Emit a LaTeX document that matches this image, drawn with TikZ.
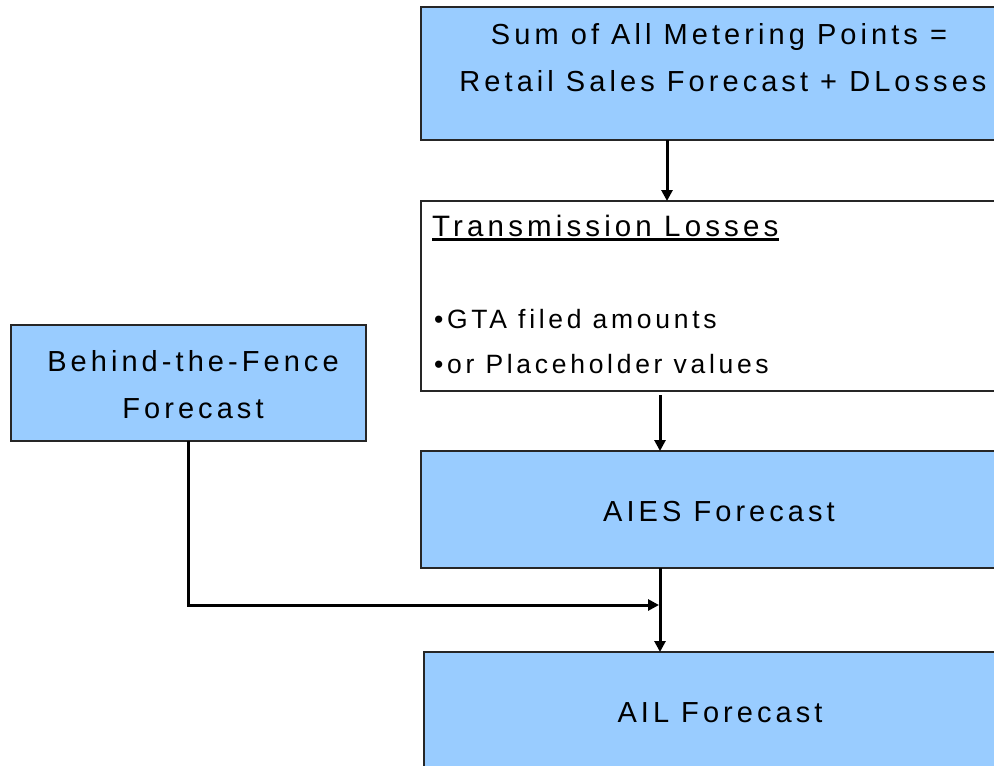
\documentclass[tikz,border=0pt]{standalone}
\usepackage{fontspec}
\setmainfont{Liberation Sans}[LetterSpace=14]
\usetikzlibrary{arrows.meta}
\definecolor{boxblue}{HTML}{99CCFF}
\begin{document}
\begin{tikzpicture}[x=1pt,y=-1pt,
  box/.style={draw=black!85, line width=1.8pt, fill=boxblue, inner sep=0pt, outer sep=0pt, anchor=north west},
  lbl/.style={font=\fontsize{29}{34}\selectfont, inner sep=0pt, text=black, anchor=base},
  bullet/.style={lbl, font=\fontsize{26.5}{32}\selectfont, anchor=base west},
  conn/.style={line width=3pt, -{Triangle[length=11pt,width=11pt]}},
]
\useasboundingbox (0,0) rectangle (994,766);
\clip (0,0) rectangle (994,766);

% boxes (the right-hand column runs past the page edge)
\node[box, minimum width=598pt, minimum height=133pt] (sum) at (421,7) {};
\node[box, fill=white, minimum width=598pt, minimum height=190pt] (tl) at (421,201) {};
\node[box, minimum width=598pt, minimum height=117pt] (aies) at (421,451) {};
\node[box, minimum width=598pt, minimum height=140pt] (ail) at (424,652) {};
\node[box, minimum width=355pt, minimum height=116pt] (btf) at (11,325) {};

% texts
\node[lbl] (sum1) at (719,44) {Sum of All Metering Points =};
\node[lbl] (sum2) at (723,91) {Retail Sales Forecast + DLosses};
\node[lbl, font=\fontsize{29.5}{34}\selectfont, anchor=base west] (tlt) at (432,236) {Transmission Losses};
\draw[line width=3pt] ([yshift=-3.5pt]tlt.base west) -- ([yshift=-3.5pt]tlt.base east);
\node[bullet] (gta) at (434,328) {\textbullet GTA filed amounts};
\node[bullet] (ph) at (434,373) {\textbullet or Placeholder values};
\node[lbl] (aiest) at (719,521) {AIES Forecast};
\node[lbl] (ailt) at (720,722) {AIL Forecast};
\node[lbl] (btf1) at (193,371) {Behind-the-Fence};
\node[lbl] (btf2) at (193,418) {Forecast};

% connectors
\coordinate (xa) at (667,0);
\coordinate (xb) at (660,0);
\coordinate (tlb) at ([yshift=-4pt]tl.south);
\coordinate (join) at (659,605);
\draw[conn] (sum.south -| xa) -- (tl.north -| xa);
\draw[conn] (tlb -| xb) -- (aies.north -| xb);
\draw[conn] (aies.south -| xb) -- (ail.north -| xb);
\draw[conn] (btf.south) -- (btf.south |- join) -- (join);
\end{tikzpicture}
\end{document}
